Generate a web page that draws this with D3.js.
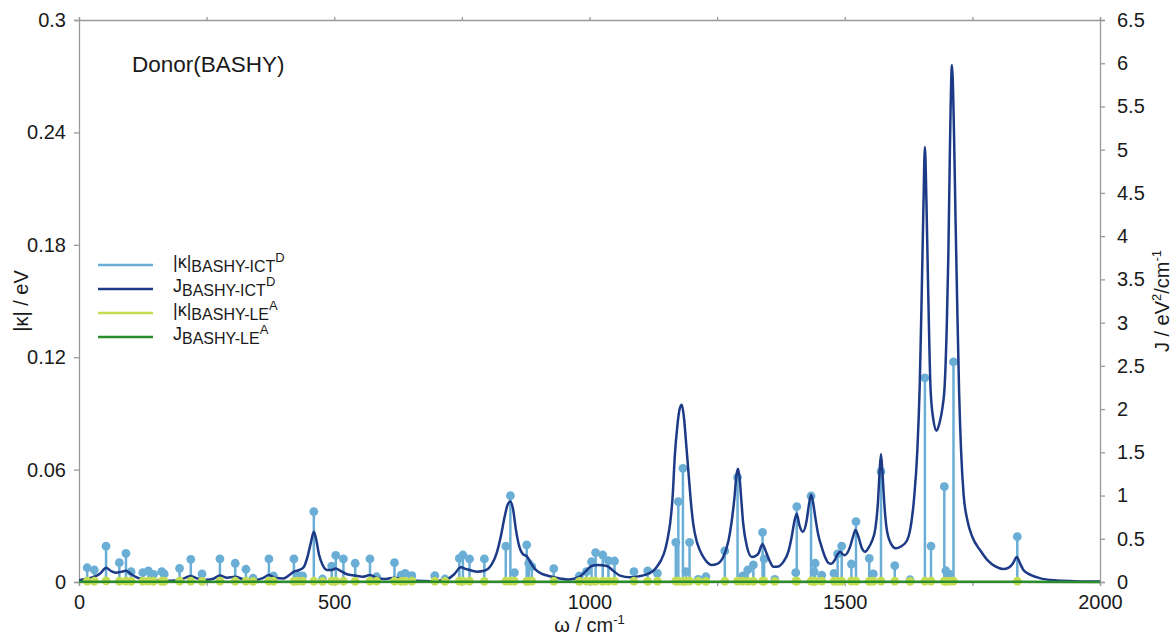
<!DOCTYPE html>
<html>
<head>
<meta charset="utf-8">
<script src="https://cdn.jsdelivr.net/npm/d3@7"></script>
<style>
  body { margin: 0; background: #fff; }
  svg { font-family: "Liberation Sans", Arial, Helvetica, sans-serif; }
  .axis path, .axis line { stroke: #9a9a9a; stroke-width: 1.3; }
  .axis text { fill: #1a1a1a; font-size: 20px; }
</style>
</head>
<body>
<div id="chart"></div>
<script>
'use strict'
/*
  Data
*/
// normal mode frequencies (cm-1)
const modeFreq = [16, 30, 53, 79, 92, 102, 125, 136, 146, 162, 167, 197, 219, 241, 276, 306, 327, 341,
  372, 381, 421, 428, 438, 460, 477, 495, 503, 518, 541, 570, 583, 618, 631, 639, 652, 697, 717,
  745, 752, 765, 794, 836, 845, 853, 877, 881, 887, 930, 980, 994, 1004, 1012, 1026, 1037, 1049,
  1087, 1114, 1133, 1169, 1174, 1183, 1189, 1196, 1213, 1228, 1265, 1290, 1300, 1310, 1321, 1339,
  1342, 1363, 1404, 1406, 1434, 1440, 1442, 1455, 1479, 1486, 1494, 1513, 1522, 1548, 1556, 1571,
  1598, 1628, 1657, 1669, 1695, 1698, 1706, 1713, 1838]
// |kappa| for BASHY-ICT^D (eV)
const kappaICT = [0.0076, 0.0064, 0.0192, 0.0103, 0.0153, 0.0055, 0.005, 0.0059, 0.0041, 0.0055, 0.0043,
  0.0073, 0.0121, 0.0043, 0.0123, 0.010, 0.0068, 0.002, 0.0123, 0.0032, 0.0123, 0.0037, 0.0033, 0.0376,
  0.0016, 0.0085, 0.0142, 0.0123, 0.010, 0.0123, 0.0028, 0.0103, 0.0037, 0.0046, 0.0034, 0.0034, 0.0016,
  0.0126, 0.0144, 0.0123, 0.0123, 0.0192, 0.0461, 0.005, 0.0198, 0.010, 0.0082, 0.0071, 0.0032, 0.0055,
  0.0108, 0.0157, 0.0144, 0.0114, 0.0112, 0.0055, 0.0059, 0.0046, 0.0212, 0.0429, 0.0607, 0.0055, 0.0212,
  0.0014, 0.0028, 0.0166, 0.0559, 0.0032, 0.0064, 0.0091, 0.0265, 0.0123, 0.0014, 0.005, 0.0402, 0.0459,
  0.0055, 0.010, 0.0037, 0.0046, 0.015, 0.0192, 0.0096, 0.0322, 0.0126, 0.0043, 0.0589, 0.0087, 0.0012,
  0.109, 0.0192, 0.0509, 0.006, 0.004, 0.1175, 0.0242]
// |kappa| for BASHY-LE^A (eV)
const kappaLE = [0.0005, 0.0004, 0.0006, 0.0004, 0.0005, 0.0003, 0.0004, 0.0005, 0.0004, 0.0003, 0.0004,
  0.0005, 0.0004, 0.0003, 0.0005, 0.0004, 0.0004, 0.0003, 0.0005, 0.0004, 0.0003, 0.0004, 0.0005, 0.0004,
  0.0003, 0.0004, 0.0005, 0.0004, 0.0003, 0.0004, 0.0005, 0.0004, 0.0003, 0.0004, 0.0005, 0.0004, 0.0003,
  0.0004, 0.0005, 0.0004, 0.0003, 0.0004, 0.0005, 0.0004, 0.0003, 0.0004, 0.0005, 0.0004, 0.0003, 0.0004,
  0.0005, 0.0004, 0.0003, 0.0004, 0.0005, 0.0004, 0.0003, 0.0004, 0.0005, 0.0004, 0.0003, 0.0004, 0.0005,
  0.0004, 0.0003, 0.0004, 0.0005, 0.0004, 0.0003, 0.0004, 0.0005, 0.0004, 0.0003, 0.0004, 0.0005, 0.0004,
  0.0003, 0.0004, 0.0005, 0.0004, 0.0003, 0.0004, 0.0005, 0.0004, 0.0003, 0.0004, 0.0005, 0.0004, 0.0003,
  0.0004, 0.0005, 0.0004, 0.0003, 0.0004, 0.0005, 0.0004]

// spectral density J for BASHY-ICT^D (eV^2/cm-1)
const jFreq = [0, 16, 30, 42, 53, 62, 72, 84, 92, 100, 112, 122, 140, 160, 180, 200, 219, 232, 250, 264,
  276, 290, 306, 320, 340, 360, 372, 385, 400, 412, 421, 432, 440, 448, 454, 460, 465, 470, 477, 486,
  495, 503, 512, 525, 541, 555, 570, 582, 600, 618, 635, 660, 690, 720, 735, 748, 758, 770, 780, 794,
  808, 818, 826, 834, 840, 845, 850, 856, 862, 870, 877, 885, 895, 905, 920, 935, 960, 980, 992, 1004,
  1017, 1034, 1047, 1060, 1079, 1095, 1112, 1125, 1132, 1140, 1148, 1153, 1158, 1163, 1167, 1172, 1177,
  1181, 1185, 1190, 1194, 1199, 1203, 1210, 1216, 1225, 1232, 1239, 1250, 1262, 1272, 1278, 1284, 1288,
  1291, 1294, 1298, 1301, 1308, 1318, 1325, 1331, 1336, 1339, 1343, 1347, 1354, 1360, 1370, 1380, 1390,
  1396, 1402, 1406, 1411, 1418, 1425, 1430, 1434, 1438, 1442, 1448, 1455, 1462, 1468, 1474, 1480, 1486,
  1491, 1496, 1500, 1510, 1516, 1521, 1527, 1533, 1540, 1547, 1553, 1560, 1565, 1568, 1571, 1574, 1577,
  1582, 1590, 1600, 1610, 1622, 1628, 1636, 1642, 1647, 1651, 1654, 1657, 1660, 1663, 1668, 1673, 1680,
  1686, 1691, 1696, 1700, 1703, 1706, 1710, 1714, 1717, 1720, 1724, 1728, 1733, 1740, 1750, 1765, 1780,
  1795, 1810, 1822, 1830, 1837, 1843, 1850, 1865, 1882, 1910, 1950, 2000]
const jICT = [0.02, 0.04, 0.06, 0.10, 0.165, 0.13, 0.108, 0.12, 0.13, 0.10, 0.055, 0.035, 0.025, 0.02, 0.015,
  0.03, 0.07, 0.04, 0.025, 0.04, 0.075, 0.05, 0.06, 0.035, 0.02, 0.045, 0.08, 0.045, 0.04, 0.08, 0.12, 0.14,
  0.17, 0.30, 0.45, 0.58, 0.48, 0.32, 0.20, 0.14, 0.14, 0.155, 0.13, 0.09, 0.075, 0.06, 0.08, 0.05, 0.035,
  0.05, 0.03, 0.015, 0.01, 0.03, 0.09, 0.17, 0.15, 0.13, 0.12, 0.13, 0.20, 0.33, 0.52, 0.76, 0.90, 0.93,
  0.85, 0.60, 0.42, 0.32, 0.30, 0.22, 0.14, 0.10, 0.07, 0.05, 0.03, 0.06, 0.12, 0.185, 0.197, 0.185, 0.127,
  0.073, 0.054, 0.065, 0.089, 0.13, 0.177, 0.25, 0.37, 0.50, 0.68, 1.00, 1.45, 1.80, 2.01, 2.05, 1.90, 1.55,
  1.26, 0.90, 0.68, 0.47, 0.37, 0.27, 0.22, 0.197, 0.21, 0.29, 0.47, 0.68, 0.98, 1.24, 1.31, 1.20, 0.90,
  0.68, 0.42, 0.29, 0.30, 0.33, 0.41, 0.44, 0.39, 0.33, 0.23, 0.177, 0.18, 0.235, 0.36, 0.52, 0.72, 0.79,
  0.66, 0.58, 0.70, 0.90, 1.01, 0.92, 0.76, 0.55, 0.40, 0.28, 0.22, 0.21, 0.25, 0.32, 0.35, 0.32, 0.31,
  0.40, 0.52, 0.60, 0.52, 0.40, 0.35, 0.40, 0.47, 0.62, 0.92, 1.25, 1.48, 1.25, 0.95, 0.62, 0.45, 0.39,
  0.41, 0.48, 0.60, 0.98, 1.5, 2.3, 3.4, 4.3, 5.03, 4.4, 3.5, 2.25, 1.9, 1.75, 1.85, 2.0, 2.3, 3.0, 3.8,
  5.0, 5.98, 5.2, 4.2, 3.3, 2.2, 1.5, 1.0, 0.72, 0.52, 0.37, 0.25, 0.18, 0.15, 0.17, 0.22, 0.29, 0.22,
  0.14, 0.08, 0.045, 0.02, 0.01, 0.005]
// spectral density J for BASHY-LE^A
const jLEFreq = [0, 500, 1000, 1500, 2000]
const jLE = [0.002, 0.003, 0.002, 0.003, 0.001]

const xMajorTicks = [0, 500, 1000, 1500, 2000]
const xTicks = [0, 250, 500, 750, 1000, 1250, 1500, 1750, 2000]
const kappaTicks = [0, 0.06, 0.12, 0.18, 0.24, 0.3]
const kappaTickLabels = ['0', '0.06', '0.12', '0.18', '0.24', '0.3']
const jTicks = [0, 0.5, 1, 1.5, 2, 2.5, 3, 3.5, 4, 4.5, 5, 5.5, 6, 6.5]

const legendItems = [
  { main: '|\u03ba|', sub: 'BASHY-ICT', sup: 'D' },
  { main: 'J', sub: 'BASHY-ICT', sup: 'D' },
  { main: '|\u03ba|', sub: 'BASHY-LE', sup: 'A' },
  { main: 'J', sub: 'BASHY-LE', sup: 'A' }
]

/*
  Setup
*/
let width = 1174
let height = 636
let plot = { left: 79, right: 1100, top: 20, bottom: 582 }
let colors = ['#6aaed6', '#1c3a86', '#c3dc50', '#2b8c2b']
let dotR = 4.4

let svg = d3.select('#chart').append('svg')
  .attr('width', width)
  .attr('height', height)

let x = d3.scaleLinear().domain([0, 2000]).range([plot.left, plot.right])
let yK = d3.scaleLinear().domain([0, 0.3]).range([plot.bottom, plot.top])
let yJ = d3.scaleLinear().domain([0, 6.5]).range([plot.bottom, plot.top])

svg.append('clipPath').attr('id', 'clip')
  .append('rect')
  .attr('x', plot.left).attr('y', plot.top - 6)
  .attr('width', plot.right - plot.left).attr('height', plot.bottom - plot.top + 12)

// axes
svg.append('g').attr('class', 'axis')
  .attr('transform', 'translate(0,' + plot.bottom + ')')
  .call(d3.axisBottom(x).tickValues(xTicks).tickSize(4).tickPadding(9)
    .tickFormat(d => xMajorTicks.includes(d) ? d : ''))

svg.append('g').attr('class', 'axis')
  .attr('transform', 'translate(0,' + plot.top + ')')
  .call(d3.axisTop(x).tickValues(xTicks).tickSize(3).tickFormat(''))

svg.append('g').attr('class', 'axis')
  .attr('transform', 'translate(' + plot.left + ',0)')
  .call(d3.axisLeft(yK).tickValues(kappaTicks).tickSize(5).tickPadding(8)
    .tickFormat((d, i) => kappaTickLabels[i]))

svg.append('g').attr('class', 'axis')
  .attr('transform', 'translate(' + plot.right + ',0)')
  .call(d3.axisRight(yJ).tickValues(jTicks).tickSize(5).tickPadding(12)
    .tickFormat(d3.format('')))

// axis titles
let xt = svg.append('text')
  .attr('x', (plot.left + plot.right) / 2).attr('y', 632)
  .attr('text-anchor', 'middle').attr('font-size', 20).attr('fill', '#1a1a1a')
xt.append('tspan').text('\u03c9 / cm')
xt.append('tspan').attr('dy', -8).attr('font-size', 13).text('-1')

svg.append('text')
  .attr('text-anchor', 'middle').attr('font-size', 20).attr('fill', '#1a1a1a')
  .attr('transform', 'translate(28,' + 301 + ')rotate(-90)')
  .text('|\u03ba| / eV')

let yt = svg.append('text')
  .attr('text-anchor', 'middle').attr('font-size', 20).attr('fill', '#1a1a1a')
  .attr('transform', 'translate(1169,' + 301 + ')rotate(-90)')
yt.append('tspan').text('J / eV')
yt.append('tspan').attr('dy', -8).attr('font-size', 13).text('2')
yt.append('tspan').attr('dy', 8).text('/cm')
yt.append('tspan').attr('dy', -8).attr('font-size', 13).text('-1')

// marks
let g = svg.append('g').attr('clip-path', 'url(#clip)')
let modes = modeFreq.map((f, i) => ({ f: f, ict: kappaICT[i], le: kappaLE[i] }))

g.selectAll('.stemICT').data(modes).enter().append('line')
  .attr('x1', d => x(d.f)).attr('x2', d => x(d.f))
  .attr('y1', yK(0)).attr('y2', d => yK(d.ict))
  .attr('stroke', colors[0]).attr('stroke-width', 2.5)

g.selectAll('.dotICT').data(modes).enter().append('circle')
  .attr('cx', d => x(d.f)).attr('cy', d => yK(d.ict)).attr('r', dotR)
  .attr('fill', colors[0])

let lineJ = d3.line()
  .x(d => x(d[0])).y(d => yJ(d[1]))
  .curve(d3.curveMonotoneX)

g.append('path')
  .datum(jFreq.map((f, i) => [f, jICT[i]]))
  .attr('d', lineJ)
  .attr('fill', 'none').attr('stroke', colors[1]).attr('stroke-width', 2.5)

g.selectAll('.stemLE').data(modes).enter().append('line')
  .attr('x1', d => x(d.f)).attr('x2', d => x(d.f))
  .attr('y1', yK(0)).attr('y2', d => yK(d.le))
  .attr('stroke', colors[2]).attr('stroke-width', 2.5)

g.selectAll('.dotLE').data(modes).enter().append('circle')
  .attr('cx', d => x(d.f)).attr('cy', d => yK(d.le)).attr('r', dotR)
  .attr('fill', colors[2])

g.append('path')
  .datum(jLEFreq.map((f, i) => [f, jLE[i]]))
  .attr('d', lineJ)
  .attr('fill', 'none').attr('stroke', colors[3]).attr('stroke-width', 2.5)

// title
svg.append('text')
  .attr('x', 132).attr('y', 72)
  .attr('font-size', 22.5).attr('fill', '#1a1a1a')
  .text('Donor(BASHY)')

// legend
let legend = svg.selectAll('.legend').data(legendItems).enter().append('g')
  .attr('class', 'legend')
  .attr('transform', (d, i) => 'translate(98,' + (265 + i * 24) + ')')

legend.append('line')
  .attr('x1', 0).attr('x2', 55).attr('y1', 0).attr('y2', 0)
  .attr('stroke', (d, i) => colors[i]).attr('stroke-width', 2.5)

let lt = legend.append('text')
  .attr('x', 75).attr('y', 3).attr('font-size', 18).attr('fill', '#1a1a1a')
lt.append('tspan').text(d => d.main)
lt.append('tspan').attr('dy', 4).attr('font-size', 16).text(d => d.sub)
lt.append('tspan').attr('dy', -10).attr('font-size', 13).text(d => d.sup)
</script>
</body>
</html>
